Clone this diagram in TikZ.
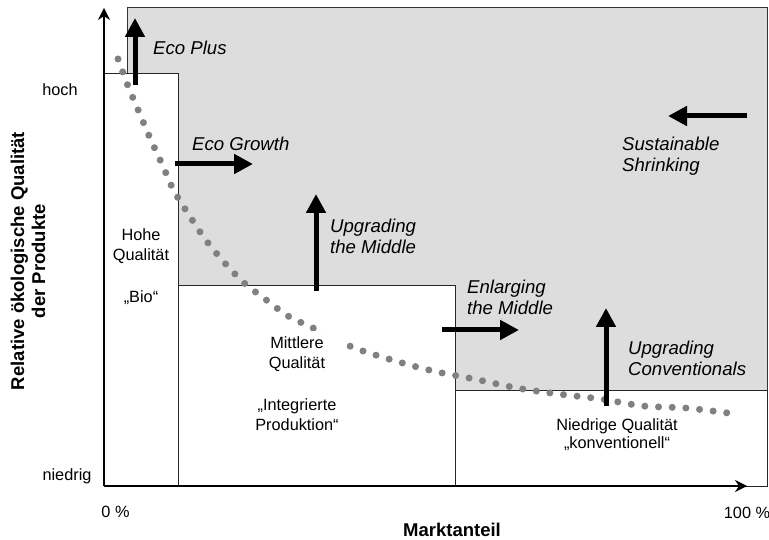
\documentclass[tikz,border=0pt]{standalone}
\usepackage{fontspec}
\setmainfont{Liberation Sans}
\usepackage{xcolor}
\usetikzlibrary{arrows, arrows.meta}
\usetikzlibrary{positioning}

\definecolor{shade}{RGB}{221,221,221}
\definecolor{dotgray}{RGB}{128,128,128}

\tikzset{
	lbl/.style={font=\fontsize{16.3}{20}\selectfont, align=center, inner sep=0pt},
	strat/.style={font=\fontsize{18.6}{21}\selectfont\itshape, align=left, anchor=west, inner sep=0pt},
	axlbl/.style={font=\fontsize{18.5}{21}\selectfont\bfseries, align=center, inner sep=0pt},
	move/.style={line width=5pt, -{Triangle[length=19pt,width=19pt]}},
	segment/.style={draw=black!85, line width=0.9pt, fill=white},
	axis/.style={line width=1.2pt, -{Stealth[length=12pt,width=12pt]}},
}

\begin{document}
\begin{tikzpicture}[x=1pt, y=-1pt]
	\useasboundingbox (0,0) rectangle (769,540);
	% shaded area above the segments
	\filldraw[fill=shade, draw=black!80, line width=0.9pt] (127,7) rectangle (767,486);
	% market segments
	\filldraw[segment] (104,73) rectangle (178,486);
	\filldraw[segment] (178,285) rectangle (455,486);
	\filldraw[segment] (455,390) rectangle (767,486);
	
	% draw axes
	\draw[axis] (104,486) -- (104,8);
	\draw[axis] (104,486) -- (747,486);
	
	% dotted demand curve
	\draw[dotgray, line width=7pt, line cap=round, dash pattern=on 0pt off 13.7pt]
		plot[smooth, tension=0.5] coordinates {(118,59) (128,86) (139,112) (150,138) (162,164) (174,191)
		(189,215) (205,239) (223,261) (243,282) (265,299) (288,316) (313,328) (352,347) (392,360)
		(433,371) (474,379) (517,388) (558,394) (601,399) (643,406) (686,408) (728,413)};
	
	% segment texts
	\node[lbl, fill=white, minimum width=96pt, inner ysep=6pt] (mid) at (297,354.5) {Mittlere\\Qualität};
	\node[lbl] (midsub) at (297,414.5) {„Integrierte\\Produktion“};
	\node[lbl] (high) at (141,246) {Hohe\\Qualität};
	\node[lbl] (highsub) at (141,298) {„Bio“};
	\node[lbl, font=\fontsize{16.3}{18}\selectfont] (low) at (617,435) {Niedrige Qualität\\„konventionell“};
	
	% strategies
	\draw[move] (135,85) -- (135,18);
	\draw[move] (175,164) -- (253,164);
	\draw[move] (316,291) -- (316,194);
	\draw[move] (442,330) -- (519,330);
	\draw[move] (606,406) -- (606,308);
	\draw[move] (747,116) -- (668,116);
	\node[strat, anchor=base west] (ecoplus) at (153,55) {Eco Plus};
	\node[strat, anchor=base west] (ecogrowth) at (192,151) {Eco Growth};
	\node[strat] (upmid) at (330,236) {Upgrading\\the Middle};
	\node[strat] (enlmid) at (467,297) {Enlarging\\the Middle};
	\node[strat] (upconv) at (628,358.5) {Upgrading\\Conventionals};
	\node[strat] (shrink) at (622,156) {Sustainable\\Shrinking};
	
	% axis labels
	\node[lbl, anchor=base] (hoch) at (60,96) {hoch};
	\node[lbl, anchor=base] (niedrig) at (67,480) {niedrig};
	\node[lbl, anchor=base] (zero) at (115.5,517) {0 \%};
	\node[lbl, anchor=base] (full) at (747,518) {100 \%};
	\node[axlbl, anchor=base] (share) at (452,536) {Marktanteil};
	\node[axlbl, rotate=90] (quality) at (28,261) {Relative ökologische Qualität\\der Produkte};
\end{tikzpicture}
\end{document}
